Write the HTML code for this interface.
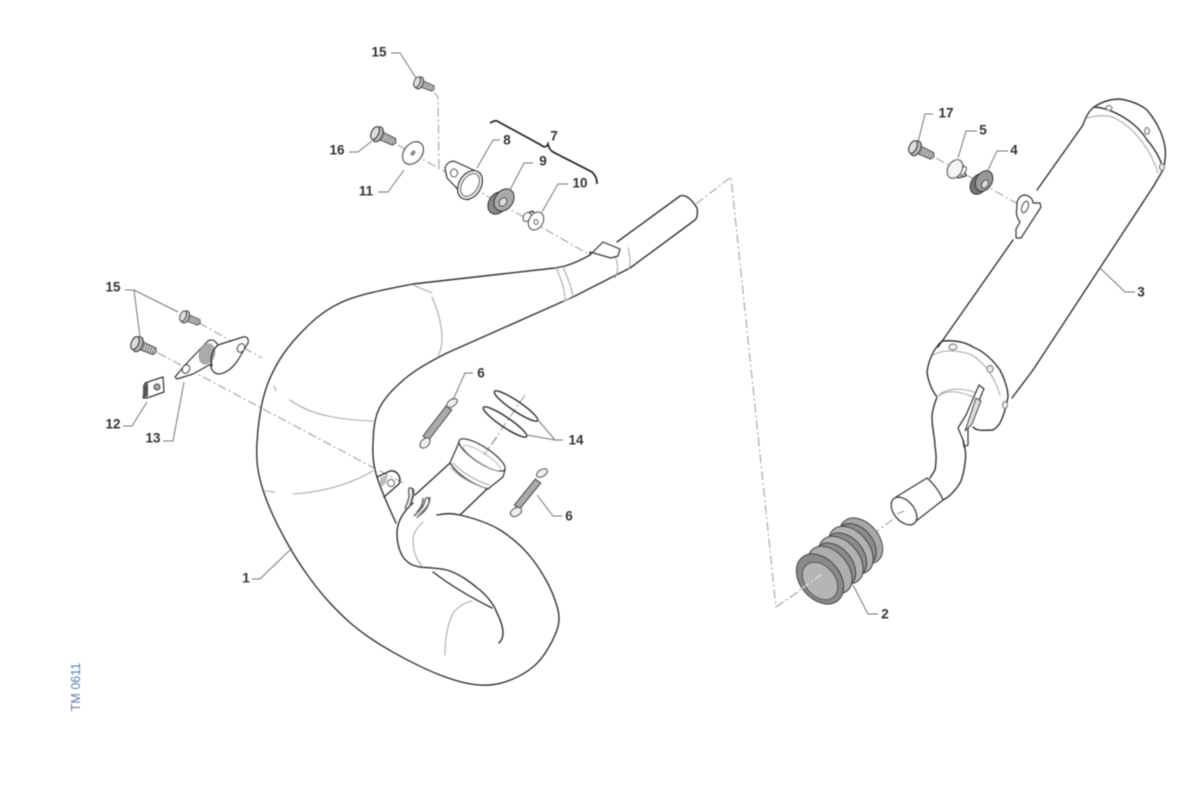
<!DOCTYPE html>
<html><head><meta charset="utf-8"><style>
html,body{margin:0;padding:0;background:#fff}
svg{display:block;filter:blur(.4px)}
text{font-family:"Liberation Sans",sans-serif;font-size:13.5px;font-weight:bold;fill:#333;text-anchor:middle;dominant-baseline:central}
.o{fill:none;stroke:#333;stroke-width:1.4;stroke-linejoin:round;stroke-linecap:round}
.w{fill:#fff;stroke:#333;stroke-width:1.2;stroke-linejoin:round}
.g{fill:none;stroke:#aaa;stroke-width:1.1;stroke-linecap:round}
.l{fill:none;stroke:#777;stroke-width:1}
.d{fill:none;stroke:#999;stroke-width:1;stroke-dasharray:9 3 2 3}
.s{fill:#aaa;stroke:#444;stroke-width:1}
</style></head><body>
<svg width="1200" height="794" viewBox="0 0 1200 794" xmlns="http://www.w3.org/2000/svg">
<defs>
<g id="bolt">
<path d="M5 -4L20 -3.500L22 0L20 3.500L5 4Z" fill="#ccc" stroke="#444" stroke-width="1"/>
<path d="M9 -4V4M11.500 -4V4M14 -3.800V3.800M16.500 -3.600V3.600M19 -3.500V3.500" stroke="#777" stroke-width="1" fill="none"/>
<ellipse cx="3" cy="0" rx="4.500" ry="7.500" fill="#bbb" stroke="#333" stroke-width="1"/>
<ellipse cx="0" cy="0" rx="3.500" ry="6.500" fill="#ddd" stroke="#333" stroke-width="1"/>
</g>
</defs>

<!-- axes -->
<path class="d" d="M696 204L731 177L776 607L814 580"/>
<path class="d" d="M872 535L904 511"/>
<path class="d" d="M434 92L438 97L439 170"/>
<path class="d" d="M398 145L590 255"/>
<path class="d" d="M199 323L262 358"/>
<path class="d" d="M158 353L374 468"/>
<path class="d" d="M380 471L403 483"/>
<path class="d" d="M936 158L1020 205"/>
<path class="d" d="M525 395L484 455"/>

<!-- main pipe -->
<path class="o" d="M565 266L555 268L413 284C390 288.500 359 294 340 303C321 312 309 324 297 337C285 350 275 365 268 383C261 401 258 425 257 443C256 461 257.500 472.500 263 490C268.500 507.500 279 529 290 548C301 567 316 588 330 603C344 618 355 628 373 640C391 652 420.500 667.500 440 675C459.500 682.500 474.500 686 490 685C505.500 683.700 522 676 533 667C544 658 553 641 557 630C560.700 619 559 611.700 555 600C551 588 542 571.700 533 560C524 548 512 537.500 500 530C488 522.500 470.500 517.500 460 515C449.500 512.500 444 514 437 515"/>
<path class="o" d="M630 268L573 297L447 353C433 360 418 368 407 377C396 386 385.700 396 380 407C374 418 373.500 431 373 443C372.500 455 373 463.700 377 477C381 490 390 510 396 523"/>
<path class="o" d="M565 266C575 263 583 259 590 255M617 242L680 196C686 194 692 200 697 208C698 214 697 218 695 220L630 268"/>
<path class="o" d="M413 503C403 512 397 522 397 533C397 545 400 552 403 557C408 564 414 566 420 567C430 568 438 568 447 570C460 574 470 582 480 590C488 597 494 605 497 613C501 621 503 628 503 633C503 638 501 641 499 643"/>
<path class="o" d="M433 572C450 585 470 597 492 608"/>
<path class="g" d="M472 601C463 603 457 608 453 613C447 625 445 640 445 655"/>
<path class="g" d="M423 522C416 528 413 535 413 540C413 552 417 561 423 567"/>
<path class="g" d="M413 285C420 288 425 290 432 293M432 297C440 315 444 335 441 348L438 357"/>
<path class="g" d="M274 386L276 391M290 400C310 415 340 420 373 421"/>
<path class="g" d="M265 491L275 492M293 494C325 492 352 483 373 471"/>
<path class="g" d="M556 268C562 280 565 292 565 300M563 267C568 278 572 290 573 297"/>
<path class="g" d="M612 248C617 260 620 268 615 278M628 248C630 256 631 262 629 269"/>
<path class="g" d="M564 301L570 298"/>
<path class="w" d="M590 255L603 242L620 249L618 256L611 258L590 252Z" fill="#f2f2f2"/>

<!-- inlet -->
<path class="o" d="M450 463L415 495"/>
<path class="o" d="M488 488L460 515"/>
<path class="w" d="M450 463L460 440L505 470L503 477L488 489C475 485 458 476 450 463Z"/>
<ellipse cx="482" cy="455" rx="27" ry="8" transform="rotate(33 482 455)" fill="#fff" stroke="#333" stroke-width="1.200"/>
<ellipse cx="482" cy="458" rx="22" ry="5" transform="rotate(33 482 458)" fill="none" stroke="#bbb" stroke-width="1"/>
<path class="g" d="M451 468C460 478 475 485 485 488M453 463C462 473 477 481 489 485" stroke="#bbb"/>
<path class="d" d="M497 437L484 455"/>
<!-- bracket on pipe -->
<path class="o" d="M377 477L390 471C397 470 402 477 399 484L384 497"/>
<circle cx="391" cy="483" r="3.500" fill="#fff" stroke="#666"/>
<path d="M380 478L388 474L386 483L381 487Z" fill="#bbb"/>
<!-- clips -->
<path d="M410 505C412 498 414 494 412 489C409 486 408 489 409 494C410 498 406 505 405 509M412 488C416 490 413 500 409 507" fill="none" stroke="#666" stroke-width="1.500"/>
<path d="M414 516C420 510 424 507 425 500C427 496 429 497 429 502C428 508 421 512 417 518M417 512C421 508 423 504 423 498M420 515C425 511 429 507 430 497" fill="none" stroke="#666" stroke-width="1.500"/>

<!-- springs -->
<path class="s" d="M451.800 410L428.800 440L423 436L446 406Z"/>
<ellipse cx="452" cy="403" rx="6" ry="3.500" transform="rotate(-35 452 403)" fill="#eee" stroke="#555"/>
<ellipse cx="425" cy="443" rx="6" ry="4" transform="rotate(-45 425 443)" fill="#eee" stroke="#555"/>
<path class="s" d="M540.700 483L519.700 509L514.300 505L535.300 479Z"/>
<ellipse cx="542" cy="473" rx="6" ry="3.500" transform="rotate(-30 542 473)" fill="#eee" stroke="#555"/>
<ellipse cx="516" cy="512" rx="6" ry="4" transform="rotate(-30 516 512)" fill="#eee" stroke="#555"/>

<!-- o-rings -->
<ellipse cx="516" cy="406" rx="26" ry="5" transform="rotate(34 516 406)" fill="none" stroke="#333" stroke-width="1.500"/>
<ellipse cx="505" cy="422" rx="26" ry="5" transform="rotate(34 505 422)" fill="none" stroke="#333" stroke-width="1.500"/>

<!-- flange 13 -->
<path class="w" d="M175 377L185 365L208 341C213 338 216 342 218 345L243 337C247 336 249 339 248 343L238 360C233 368 225 374 218 374C213 373 210 368 211 364L193 374L177 379Z"/>
<ellipse cx="207" cy="354" rx="8" ry="11" transform="rotate(20 207 354)" fill="#aaa"/>
<path class="o" d="M218 345C212 350 210 358 212 366" stroke-width="1"/>
<ellipse cx="186" cy="369" rx="3.500" ry="4.500" transform="rotate(30 186 369)" fill="#fff" stroke="#444"/>
<ellipse cx="241" cy="348" rx="3.500" ry="4.500" transform="rotate(30 241 348)" fill="#fff" stroke="#444"/>

<!-- clip 12 -->
<path class="w" d="M145 383L163 377L164 392L147 398L143 398Z" fill="#eee"/>
<path d="M143 385L148 383L148 396L143 398Z" fill="#555"/>
<circle cx="157" cy="387" r="3" fill="#aaa" stroke="#444"/>

<!-- bolts -->
<use href="#bolt" transform="translate(417 82) rotate(22) scale(.85)"/>
<use href="#bolt" transform="translate(183 316) rotate(22) scale(.85)"/>
<use href="#bolt" transform="translate(135 343) rotate(23) scale(1.05)"/>
<use href="#bolt" transform="translate(375 133) rotate(25) scale(1.05)"/>
<use href="#bolt" transform="translate(913 147) rotate(25) scale(1.05)"/>

<!-- washer 11 -->
<ellipse cx="413" cy="153" rx="9" ry="12.500" transform="rotate(38 413 153)" fill="#fff" stroke="#444" stroke-width="1.100"/>
<ellipse cx="413" cy="153" rx="2" ry="3" transform="rotate(38 413 153)" fill="#888"/>

<!-- part 8 -->
<path class="w" d="M445 168C447 162 452 160 456 162L480 173L468 200L447 178Z"/>
<ellipse cx="454" cy="173" rx="3.500" ry="4" fill="#fff" stroke="#555"/>
<ellipse cx="470" cy="185" rx="11" ry="15.500" transform="rotate(32 470 185)" fill="#fff" stroke="#333" stroke-width="1.200"/>
<ellipse cx="470" cy="185" rx="8" ry="12.500" transform="rotate(32 470 185)" fill="#fff" stroke="#888" stroke-width="1.500"/>

<!-- part 9 -->
<ellipse cx="498" cy="203" rx="9" ry="12" transform="rotate(35 498 203)" fill="#8a8a8a" stroke="#333"/>
<ellipse cx="504" cy="200" rx="9" ry="12" transform="rotate(35 504 200)" fill="#aaa" stroke="#333"/>
<ellipse cx="503" cy="202" rx="3.500" ry="4.500" transform="rotate(35 503 202)" fill="#ddd" stroke="#555"/>

<!-- part 10 -->
<path class="w" d="M527 213L533 211L538 224L531 219Z"/>
<ellipse cx="527" cy="217" rx="3.500" ry="5" transform="rotate(35 527 217)" fill="#fff" stroke="#555"/>
<ellipse cx="536" cy="221" rx="7" ry="9.500" transform="rotate(30 536 221)" fill="#fff" stroke="#555" stroke-width="1.100"/>
<ellipse cx="536" cy="222" rx="2" ry="2.500" fill="#fff" stroke="#666"/>

<!-- part 5 -->
<path class="w" d="M953 162L963 165L966 176L958 178Z" fill="#fff"/>
<ellipse cx="963" cy="171" rx="2.500" ry="5" transform="rotate(30 963 171)" fill="#fff" stroke="#555"/>
<ellipse cx="955" cy="169" rx="7" ry="10" transform="rotate(30 955 169)" fill="#f4f4f4" stroke="#555" stroke-width="1.100"/>

<!-- part 4 -->
<ellipse cx="979" cy="184" rx="8" ry="11" transform="rotate(30 979 184)" fill="#777" stroke="#333"/>
<ellipse cx="984" cy="181" rx="8" ry="11" transform="rotate(30 984 181)" fill="#999" stroke="#333"/>
<ellipse cx="985" cy="184" rx="3" ry="4.500" transform="rotate(30 985 184)" fill="#ddd" stroke="#555"/>

<!-- muffler -->
<path class="o" d="M1083 125L1037 190M1013 240L938 347"/>
<path class="o" d="M1153 187L1033 370L1012 398"/>
<path class="o" d="M1083 125C1086 116 1090 110 1094 107C1103 101 1112 99 1120 99C1132 101 1141 105 1147 110C1157 122 1163 135 1165 147C1166 155 1165 163 1163 170L1153 187"/>
<path class="o" d="M1094 107C1110 108 1135 120 1147 140C1156 150 1162 162 1163 170" stroke-width="1"/>
<path class="g" d="M1087 118C1098 115 1106 115 1113 117C1125 123 1135 132 1143 143C1150 153 1155 163 1158 173" stroke-width="2" stroke="#bbb"/>
<ellipse cx="1109" cy="108" rx="3" ry="2.500" fill="#eee" stroke="#777"/>
<ellipse cx="1147" cy="131" rx="2.500" ry="3.500" fill="#eee" stroke="#777"/>
<ellipse cx="1162" cy="167" rx="2.500" ry="3.500" fill="#eee" stroke="#777"/>
<!-- bracket 3 -->
<path class="w" d="M1017 208C1016 200 1020 195 1025 195C1030 196 1033 199 1033 203L1040 203L1041 207L1021 238L1016 238L1016 229L1020 222C1016 217 1016 212 1017 208Z"/>
<ellipse cx="1025" cy="207" rx="3" ry="6" transform="rotate(20 1025 207)" fill="#fff" stroke="#444"/>
<!-- flange rear -->
<path class="o" d="M942 341C933 349 928 362 927 373C929 384 933 392 937 397C934 405 932 411 932 417C932 428 935 438 935 447C937 456 936 464 935 470L930 478"/>
<path class="o" d="M942 341C955 340 965 342 973 347C985 352 993 360 1000 370C1005 380 1008 390 1008 397C1006 408 1003 417 1000 423C996 429 992 431 990 430C980 431 975 430 973 427"/>
<path class="g" d="M932 356C942 349 955 350 970 354C985 362 995 378 1000 395" stroke="#bbb"/>
<path class="g" d="M937 397C945 390 958 390 975 398M940 394C950 387 968 388 980 395" stroke="#bbb"/>
<path class="w" d="M979 385L984 389L982 393L972 420L968 428L968 445L964 447L963 440L958 428L966 415Z" fill="#fff"/>
<path d="M976 398L981 401L972 424L965 431Z" fill="#ddd" stroke="#444"/>
<ellipse cx="953" cy="347" rx="4" ry="3" fill="#eee" stroke="#777"/>
<ellipse cx="990" cy="369" rx="3" ry="3.500" fill="#eee" stroke="#777"/>
<ellipse cx="1005" cy="405" rx="2.500" ry="3.500" fill="#eee" stroke="#777"/>
<path class="o" d="M963 440C966 450 966 458 965 463C964 472 962 479 960 483C955 491 949 497 943 500"/>
<!-- sleeve -->
<path class="w" d="M896 497L927 478C933 483 940 492 943 500L911 525Z"/>
<ellipse cx="904" cy="511" rx="10" ry="16" transform="rotate(-40 904 511)" fill="#fff" stroke="#333" stroke-width="1.200"/>
<path class="d" d="M897 514L904 511"/>

<!-- rubber -->
<g stroke="#444" stroke-width="1">
<ellipse cx="861" cy="541" rx="26" ry="18" transform="rotate(50 861 541)" fill="#a8a8a8"/>
<ellipse cx="856" cy="545" rx="24" ry="17" transform="rotate(50 856 545)" fill="#8c8c8c"/>
<ellipse cx="851" cy="550" rx="27" ry="18" transform="rotate(50 851 550)" fill="#b2b2b2"/>
<ellipse cx="846" cy="555" rx="25" ry="17" transform="rotate(50 846 555)" fill="#8c8c8c"/>
<ellipse cx="841" cy="560" rx="27" ry="18" transform="rotate(50 841 560)" fill="#b2b2b2"/>
<ellipse cx="835" cy="565" rx="25" ry="17" transform="rotate(50 835 565)" fill="#8c8c8c"/>
<ellipse cx="830" cy="570" rx="27" ry="18" transform="rotate(50 830 570)" fill="#aeaeae"/>
<ellipse cx="820" cy="579" rx="28" ry="20" transform="rotate(50 820 579)" fill="#8a8a8a"/>
<ellipse cx="820" cy="581" rx="21" ry="15" transform="rotate(50 820 581)" fill="#b5b5b5" stroke="#555"/>
</g>
<path d="M776 607L822 574" stroke="#eee" stroke-width="1" stroke-dasharray="8 3 2 3" fill="none"/>
<path d="M776 607L798 592" stroke="#999" stroke-width="1" fill="none" stroke-dasharray="9 3 2 3"/>

<!-- brace -->
<path fill="none" stroke="#222" stroke-width="1.700" d="M490 123C492 122 495 120 497 121L541 145C544 148 547 147 548 144C549 148 550 150 553 152L592 172C595 175 597 178 597 184"/>

<!-- leaders -->
<g class="l">
<path d="M391 53H400L416 78"/>
<path d="M349 152H358L372 141"/>
<path d="M378 192H388L404 170"/>
<path d="M500 140H493L477 168"/>
<path d="M533 163H524L510 190"/>
<path d="M568 184H558L542 212"/>
<path d="M933 114H925L918 142"/>
<path d="M977 131H966L958 158"/>
<path d="M1008 151H997L987 172"/>
<path d="M1135 292H1125L1100 268"/>
<path d="M878 614H868L853 585"/>
<path d="M252 579H260L292 548"/>
<path d="M473 373H465L453 400"/>
<path d="M562 516H553L537 495"/>
<path d="M563 440H555L538 420M555 440L527 435"/>
<path d="M125 290H134L178 312M134 290L140 337"/>
<path d="M123 426H132L147 402"/>
<path d="M163 441H173L184 382"/>
</g>

<!-- labels -->
<text x="379" y="52">15</text>
<text x="946" y="113">17</text>
<text x="983" y="130">5</text>
<text x="1014" y="150">4</text>
<text x="507" y="140">8</text>
<text x="554" y="136">7</text>
<text x="543" y="161">9</text>
<text x="580" y="183">10</text>
<text x="337" y="150">16</text>
<text x="366" y="191">11</text>
<text x="1141" y="292">3</text>
<text x="113" y="287">15</text>
<text x="481" y="373">6</text>
<text x="576" y="440">14</text>
<text x="569" y="516">6</text>
<text x="113" y="424">12</text>
<text x="153" y="438">13</text>
<text x="246" y="578">1</text>
<text x="885" y="614">2</text>
<text transform="translate(76 687) rotate(-90)" style="font-weight:normal;font-size:12.500px;fill:#5b7db1">TM 0611</text>
</svg>
</body></html>
